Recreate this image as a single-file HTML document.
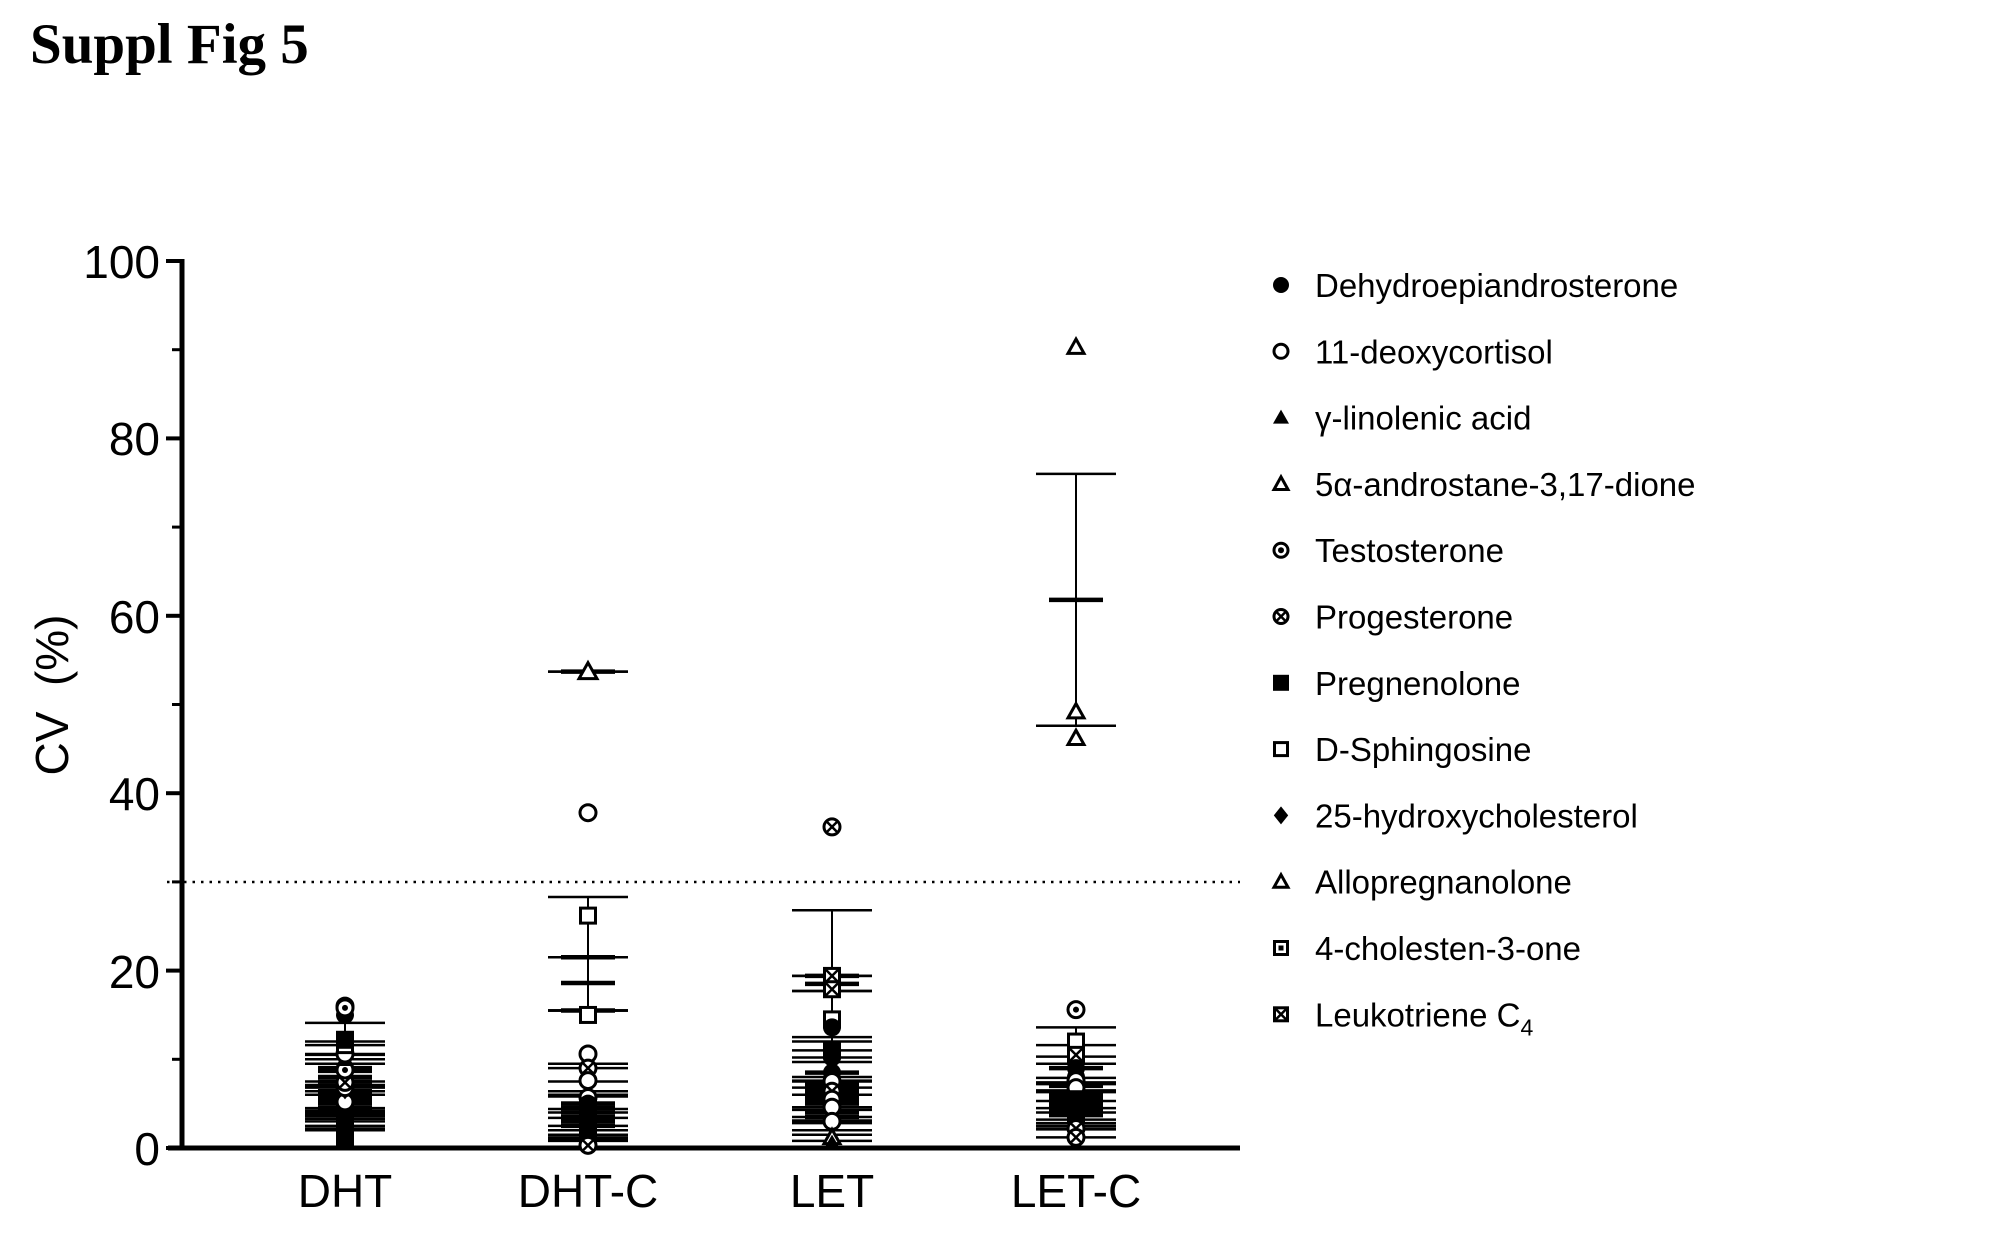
<!DOCTYPE html>
<html><head><meta charset="utf-8"><style>
html,body{margin:0;padding:0;background:#fff;}
svg{display:block;}
text{font-family:"Liberation Sans",Arial,sans-serif;fill:#000;}
</style></head><body>
<svg id="s" width="2015" height="1242" viewBox="0 0 2015 1242" xmlns="http://www.w3.org/2000/svg">
<text x="30" y="63" style="font-family:'Liberation Serif',serif;font-weight:bold;font-size:57px">Suppl Fig 5</text>
<g id="ax" stroke="#000" fill="none">
<line x1="182" y1="259" x2="182" y2="1150" stroke-width="5"/>
<line x1="168" y1="1148" x2="1240" y2="1148" stroke-width="5"/>
<line x1="167" y1="882" x2="1240" y2="882" stroke-width="2.5" stroke-dasharray="2.5 6"/>
</g>
<g id="ticks"></g>
<g font-size="46" text-anchor="end">
<text x="160" y="1165">0</text><text x="160" y="988">20</text><text x="160" y="810">40</text><text x="160" y="633">60</text><text x="160" y="455">80</text><text x="160" y="278">100</text>
</g>
<g font-size="46" text-anchor="middle">
<text x="345" y="1207">DHT</text><text x="588" y="1207">DHT-C</text><text x="832" y="1207">LET</text><text x="1076" y="1207">LET-C</text>
</g>
<text font-size="46" transform="translate(68,695) rotate(-90)" text-anchor="middle" xml:space="preserve" style="white-space:pre">CV  (%)</text>
<g id="data"></g>
<g id="leg" font-size="33"></g>
</svg>
<script>
var NS="http://www.w3.org/2000/svg";
function el(p,t,a){var e=document.createElementNS(NS,t);for(var k in a)e.setAttribute(k,a[k]);p.appendChild(e);return e;}
function Y(v){return 1148-v*8.87;}
var tk=document.getElementById('ticks');
for(var v=0;v<=100;v+=10){el(tk,'line',{x1:(v%20?172:166),x2:182,y1:Y(v),y2:Y(v),stroke:'#000','stroke-width':v%20?3:4});}
var D=document.getElementById('data');
function marker(p,type,x,y,r){
 r=r||9;
 if(type=='fc')el(p,'circle',{cx:x,cy:y,r:r,fill:'#000'});
 else if(type=='oc')el(p,'circle',{cx:x,cy:y,r:r-1,fill:'#fff',stroke:'#000','stroke-width':3});
 else if(type=='ft')el(p,'polygon',{points:(x)+','+(y-r)+' '+(x+r)+','+(y+r*0.75)+' '+(x-r)+','+(y+r*0.75),fill:'#000'});
 else if(type=='ot')el(p,'polygon',{points:(x)+','+(y-r+1)+' '+(x+r-1)+','+(y+r*0.7)+' '+(x-r+1)+','+(y+r*0.7),fill:'#fff',stroke:'#000','stroke-width':3});
 else if(type=='dc'){el(p,'circle',{cx:x,cy:y,r:r-1,fill:'#fff',stroke:'#000','stroke-width':3});el(p,'circle',{cx:x,cy:y,r:3,fill:'#000'});}
 else if(type=='xc'){el(p,'circle',{cx:x,cy:y,r:r-1,fill:'#fff',stroke:'#000','stroke-width':3});el(p,'path',{d:'M'+(x-5)+' '+(y-5)+'L'+(x+5)+' '+(y+5)+'M'+(x+5)+' '+(y-5)+'L'+(x-5)+' '+(y+5),stroke:'#000','stroke-width':2.5});}
 else if(type=='fs')el(p,'rect',{x:x-r,y:y-r,width:2*r,height:2*r,fill:'#000'});
 else if(type=='os')el(p,'rect',{x:x-r+1.5,y:y-r+1.5,width:2*r-3,height:2*r-3,fill:'#fff',stroke:'#000','stroke-width':3});
 else if(type=='fd')el(p,'polygon',{points:x+','+(y-r)+' '+(x+r*0.8)+','+y+' '+x+','+(y+r)+' '+(x-r*0.8)+','+y,fill:'#000'});
 else if(type=='ds'){el(p,'rect',{x:x-r+1.5,y:y-r+1.5,width:2*r-3,height:2*r-3,fill:'#fff',stroke:'#000','stroke-width':3});el(p,'rect',{x:x-2.5,y:y-2.5,width:5,height:5,fill:'#000'});}
 else if(type=='xs'){el(p,'rect',{x:x-r+1.5,y:y-r+1.5,width:2*r-3,height:2*r-3,fill:'#fff',stroke:'#000','stroke-width':3});el(p,'path',{d:'M'+(x-6)+' '+(y-6)+'L'+(x+6)+' '+(y+6)+'M'+(x+6)+' '+(y-6)+'L'+(x-6)+' '+(y+6),stroke:'#000','stroke-width':2.5});}
}
function bars(x,list){
 list.forEach(function(b){
  el(D,'line',{x1:x,x2:x,y1:Y(b[2]),y2:Y(b[1]),stroke:'#000','stroke-width':2});
  el(D,'line',{x1:x-40,x2:x+40,y1:Y(b[2]),y2:Y(b[2]),stroke:'#000','stroke-width':2.5});
  el(D,'line',{x1:x-40,x2:x+40,y1:Y(b[1]),y2:Y(b[1]),stroke:'#000','stroke-width':2.5});
  el(D,'line',{x1:x-27,x2:x+27,y1:Y(b[0]),y2:Y(b[0]),stroke:'#000','stroke-width':4.5});
 });
}
function pts(x,list){list.forEach(function(p){marker(D,p[0],x,Y(p[1]));});}
var G=[345,588,832,1076];
bars(G[0],[[8,2,14.1],[7,3.3,11.6],[6,2.5,12],[5.5,3.8,9.5],[7.5,4.2,10],[6.4,4,7.5],[5,2.2,7],[9,6,10.6],[4.5,3,6.4],[6,4.5,7.1],[8.7,7,10.5],[5.2,3.6,6.8]]);
pts(G[0],[['fs',1],['fc',1.5],['fs',2.5],['fs',3.5],['fc',4],['fs',5],['oc',5.2],['fd',6.5],['oc',6.8],['xc',7.4],['dc',8.8],['ft',10],['oc',10.6],['os',11.6],['fs',12.2],['fc',15],['xc',16],['dc',15.8]]);
bars(G[1],[[53.7,53.7,53.7],[21.5,15.5,28.3],[18.6,15.5,21.5],[15.5,15.5,15.5],[5,1,9.5],[4,1.5,9],[3.5,1.2,7.5],[3,0.8,6],[4.5,2.5,5.8],[2.5,1,4],[5,3.4,6.4],[3.2,2,4.4]]);
marker(D,'ot',G[1],Y(53.7),10);
pts(G[1],[['oc',37.8],['os',26.2],['os',15],['oc',10.6],['xc',9],['oc',7.6],['oc',5.7],['fc',5],['fs',4.5],['fs',3.8],['fd',3.2],['fs',2.6],['fc',2],['fs',1.4],['ft',0.8],['xc',0.3]]);
bars(G[2],[[19.4,17.7,19.4],[18.5,17.7,19.4],[6,0.8,26.8],[7,3.5,12.5],[6.5,2,12],[5.5,3,11],[7.2,4.6,9.7],[6,3.1,8],[4,1.5,7.5],[5,2.8,6.8],[3.5,2,6],[8.5,6,10.2],[6.8,4.3,7.6]]);
pts(G[2],[['xc',36.2],['xs',19.4],['xs',17.9],['os',14.5],['fc',13.6],['fs',11],['fc',10.2],['fc',8.5],['oc',7.5],['xc',6.4],['oc',5.5],['oc',4.6],['oc',3],['ot',1.2],['ft',0.5]]);
bars(G[3],[[61.8,47.6,76],[9,6.3,13.6],[7,4,11.6],[5.5,2.8,10.3],[5,1.2,9.5],[5.5,2.5,7.9],[4.3,2.2,7.4],[6,4.5,7.2],[4.8,3.2,6.5],[3.7,2.1,5.3]]);
pts(G[3],[['ot',90.3],['ot',49.2],['ot',46.2],['dc',15.6],['os',12],['xs',10.5],['fc',9],['fc',8],['oc',7.6],['oc',6.8],['fs',5.5],['fd',4.5],['fs',3.8],['fc',3.2],['xc',2.2],['xc',1.2]]);
var L=[['fc','Dehydroepiandrosterone'],['oc','11-deoxycortisol'],['ft','γ-linolenic acid'],['ot','5α-androstane-3,17-dione'],['dc','Testosterone'],['xc','Progesterone'],['fs','Pregnenolone'],['os','D-Sphingosine'],['fd','25-hydroxycholesterol'],['ot','Allopregnanolone'],['ds','4-cholesten-3-one'],['xs','Leukotriene C']];
var lg=document.getElementById('leg');
L.forEach(function(l,i){
 var y=285+i*66.3;
 marker(lg,l[0],1281,y,l[0]=='fd'?9:8);
 var t=el(lg,'text',{x:1315,y:y+12});t.textContent=l[1];
 if(i==11){var s=el(t,'tspan',{dy:9,'font-size':23});s.textContent='4';}
});
</script>
</body></html>
